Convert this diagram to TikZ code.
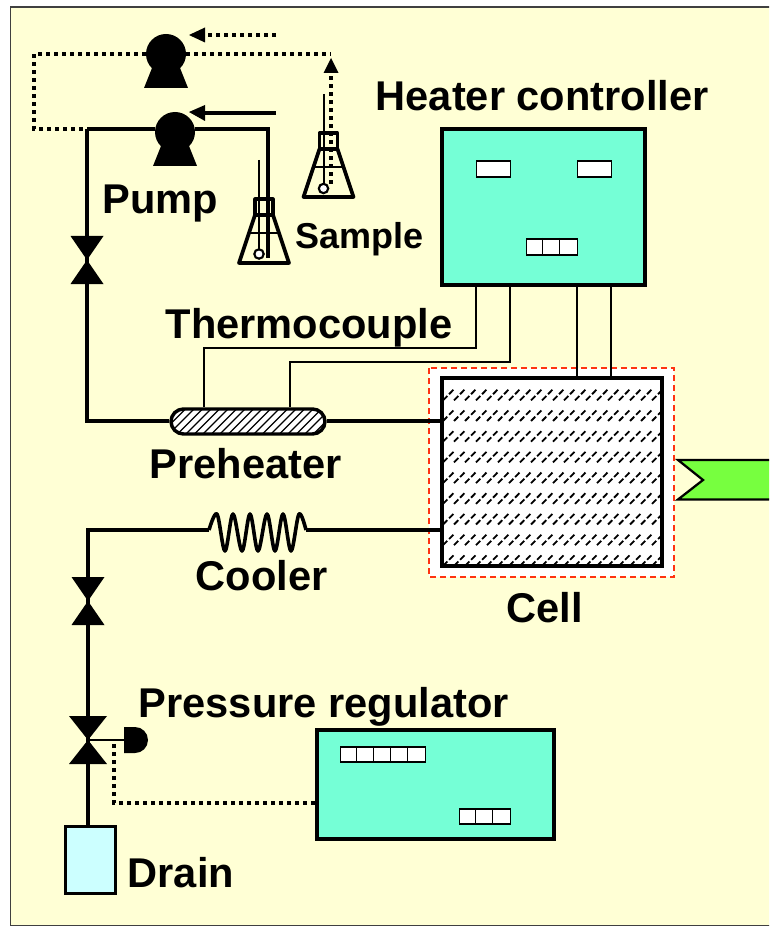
\documentclass[tikz,border=0pt]{standalone}
\usepackage{fontspec}
\setmainfont{Liberation Sans}
\definecolor{paper}{HTML}{FFFFD5}
\definecolor{mint}{HTML}{75FFD6}
\definecolor{drainblue}{HTML}{CCFFFF}
\definecolor{gauge}{HTML}{77FF3F}
\definecolor{redline}{HTML}{FF3311}
\tikzset{
  pipe/.style={line width=2.9pt,black},
  wire/.style={line width=1.8pt,black},
  dotline/.style={line width=3.2pt,black,dash pattern=on 3pt off 3pt},
  boxa/.style={draw=black,line width=3pt,fill=mint,inner sep=0pt,rectangle},
  cellbox/.style={fill=white,inner sep=0pt,rectangle,line width=1.3pt,draw=black},
  tag/.style={anchor=base west,inner sep=0pt,font=\bfseries\fontsize{31.2}{31}\selectfont},
  tagsmall/.style={anchor=base west,inner sep=0pt,font=\bfseries\fontsize{27}{27}\selectfont},
  pumphead/.style={circle,fill=black,inner sep=0pt,minimum size=30pt},
}
% valve: two black triangles meeting at the centre
\newcommand{\myvalve}[4]{% x, y, half width, half height
  \fill (#1-#3,#2-#4) -- (#1+#3,#2-#4) -- (#1,#2) -- cycle;
  \fill (#1-#3,#2+#4) -- (#1+#3,#2+#4) -- (#1,#2) -- cycle;
}
% pump foot
\newcommand{\mypumpfoot}[2]{%
  \fill (#1-14,#2+14) -- (#1+14,#2+14) -- (#1+22,#2+34) -- (#1-22,#2+34) -- cycle;
}
% flask: x of neck centre, y of neck top
\newcommand{\myflask}[2]{%
  \draw[line width=2.3pt,line join=round] (#1-9,#2) rectangle (#1+9,#2+16);
  \draw[line width=2.8pt,line join=round] (#1-9,#2+16) -- (#1-25,#2+64) -- (#1+25,#2+64) -- (#1+9,#2+16);
  \draw[line width=1.7pt] (#1-15.5,#2+34) -- (#1+15.5,#2+34);
}
% row of small white cells
\newcommand{\mycells}[6]{% name, x, y, n, cell width, height
  \node[cellbox,minimum width=#4*#5*0.75pt,minimum height=#6*0.75pt,anchor=north west] (#1) at (#2,#3) {};
  \foreach \k in {1,...,#4} {\ifnum\k<#4\relax\draw[line width=1.3pt] (#2+\k*#5,#3) -- (#2+\k*#5,#3+#6);\fi}
}
\begin{document}
\begin{tikzpicture}[x=0.75pt,y=-0.75pt]
\path[use as bounding box,clip] (0,0) rectangle (769,927);
\fill[white] (0,0) rectangle (769,927);
\draw[line width=1.2pt,draw=black!75,fill=paper] (10.5,7) rectangle (800,925.5);

% red dashed zone
\draw[redline,fill=white,line width=1.1pt,dash pattern=on 4.5pt off 3pt] (429,368) rectangle (674,577);

% junctions
\coordinate (jTL) at (87,129);
\coordinate (jBL) at (88,531);
\coordinate (valveA) at (87,260);
\coordinate (valveB) at (88,601);
\coordinate (valveC) at (88,740);
\coordinate (dotTL) at (34,54);
\coordinate (dotBL) at (34,129);
\coordinate (dotTR) at (331,54);
\coordinate (dotFlask) at (331,184);
\coordinate (tubeTop) at (268,129);
\coordinate (tubeEnd) at (268,258);
\coordinate (coilL) at (209,530);
\coordinate (coilR) at (306,530);
\coordinate (act) at (125,740);

% main nodes
\node[boxa,minimum width=203*0.75pt,minimum height=156*0.75pt] (heater) at (543.5,207) {};
\node[boxa,minimum width=237*0.75pt,minimum height=109*0.75pt] (regulator) at (435.5,784.5) {};
\node[draw=black,line width=2.5pt,fill=drainblue,inner sep=0pt,minimum width=50*0.75pt,minimum height=67*0.75pt] (drain) at (90.5,860) {};
\node[pumphead] (pumpA) at (166,54) {};
\node[pumphead] (pumpB) at (175,132) {};

% cell with hatched rows
\fill[white] (442,378) rectangle (662,566);
\begin{scope}
  \clip (443,379) rectangle (661,565);
  \foreach \r in {395,415.7,436.4,457.1,477.8,498.5,519.2,539.9,560.6}{
    \foreach \s in {443,454,...,670}{
      \draw[line width=1.35pt,dash pattern=on 4.6pt off 1.9pt] (\s,\r+5.3) -- (\s+10.5,\r-5.3);
    }
  }
\end{scope}
\node[draw=black,line width=3pt,inner sep=0pt,minimum width=220*0.75pt,minimum height=188*0.75pt] (cell) at (552,472) {};

% preheater
\fill[white,rounded corners=9.4pt] (171,409) rectangle (325,434);
\begin{scope}
  \clip[rounded corners=9.4pt] (171,409) rectangle (325,434);
  \foreach \s in {150,158.5,...,340}{
    \draw[line width=0.95pt] (\s,436) -- (\s+28,408);
  }
\end{scope}
\node[draw=black,line width=2.6pt,rounded corners=9.4pt,inner sep=0pt,minimum width=154*0.75pt,minimum height=25*0.75pt] (preheater) at (248,421.5) {};

% pipes
\draw[pipe] (jTL) -- (pumpB.west |- jTL);
\draw[pipe] (pumpB.east |- tubeTop) -- (tubeTop) -- (tubeEnd);
\draw[pipe] (jTL) -- (valveA);
\draw[pipe] (valveA) -- (87,421) -- (preheater.west |- 0,421);
\draw[pipe] (preheater.east |- 0,421) -- (cell.west |- 0,421);
\draw[pipe] (cell.west |- coilR) -- (coilR);
\draw[pipe] (coilL) -- (jBL |- coilL) -- (valveB);
\draw[pipe] (valveB) -- (valveC);
\draw[pipe] (valveC) -- (drain.north -| valveC);

% valves
\myvalve{87}{260}{16.5}{24}
\myvalve{88}{601}{16.5}{24}
\myvalve{88}{740}{19}{24}

% coil
\draw[line width=2.7pt,line join=round] plot[smooth,tension=0.55] coordinates {
  (coilL) (217,514) (225,551) (233,514) (242,551) (250,514) (258,551) (267,514) (275,551) (283,514) (291,551) (299,514) (coilR)};

% actuator
\draw[line width=2.2pt] (valveC) -- (act);
\fill (124,727) -- (135,727) arc[start angle=-90,end angle=90,radius=13] -- (124,753) -- cycle;

% pumps' feet
\mypumpfoot{166}{54}
\mypumpfoot{175}{132}

% dotted lines
\draw[dotline] (pumpA.west) -- (dotTL) -- (dotBL) -- (jTL);
\draw[dotline] (pumpA.east) -- (dotTR);
\draw[dotline] (regulator.west |- 0,803) -- (114,803) -- (114,741);

% flasks
\myflask{264}{199}
\myflask{328.5}{133}
\draw[line width=1.7pt] (259,160) -- (259,250);
\draw[line width=1.7pt] (324,94) -- (324,184);
\draw[line width=1.6pt,fill=white] (259,254) circle[radius=4.7];
\draw[line width=1.6pt,fill=white] (323.5,188.5) circle[radius=4.7];
\draw[dotline] (dotFlask) -- (331,72);

% arrows
\coordinate (aHead) at (189,35);
\coordinate (bHead) at (189,112);
\coordinate (cHead) at (331,58);
\draw[dotline] (276,35) -- (200,35);
\fill (aHead) -- (205,27.5) -- (205,42.5) -- cycle;
\draw[line width=2.6pt] (276,113) -- (200,113);
\fill (bHead) -- (205,105) -- (205,121) -- cycle;
\fill (cHead) -- (338.5,73) -- (323.5,73) -- cycle;

% thermocouple wires
\draw[wire] (heater.south -| 476,0) -- (476,348) -- (204,348) -- (preheater.north -| 204,0);
\draw[wire] (heater.south -| 510,0) -- (510,362) -- (290,362) -- (preheater.north -| 290,0);
\draw[wire] (heater.south -| 577,0) -- (cell.north -| 577,0);
\draw[wire] (heater.south -| 611,0) -- (cell.north -| 611,0);

% small display windows
\mycells{dispA}{475.5}{160}{1}{34}{16}
\mycells{dispB}{576.5}{160}{1}{34}{16}
\mycells{dispC}{525.5}{238}{3}{17}{16}
\mycells{dispD}{339.5}{746}{5}{17}{15}
\mycells{dispE}{458.5}{808}{3}{17}{15}

% output flag
\draw[line width=1.7pt,fill=gauge,line join=miter] (800,460) -- (678,460) -- (703,480) -- (678,499.5) -- (800,499.5);

% labels
\node[tag] (lHeater) at (375.5,111) {Heater controller};
\node[tag] (lPump) at (102.5,214) {Pump};
\node[tagsmall] (lSample) at (295,248) {Sample};
\node[tag] (lThermo) at (165.5,338) {Thermocouple};
\node[tag] (lPre) at (149.5,478) {Preheater};
\node[tag] (lCooler) at (195.5,590) {Cooler};
\node[tag] (lCell) at (506.5,622) {Cell};
\node[tag] (lPress) at (138.5,717) {Pressure regulator};
\node[tag] (lDrain) at (127.5,887) {Drain};
\end{tikzpicture}
\end{document}
